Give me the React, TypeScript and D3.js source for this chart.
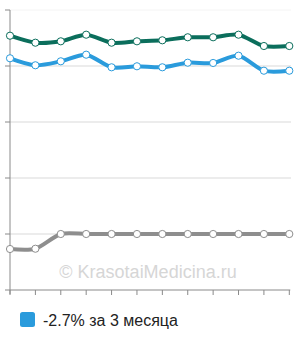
import React from "react";
import * as d3 from "d3";

const xLabels = ["1", "2", "3", "4", "5", "6", "7", "8", "9", "10", "11", "12"];
const yTicks = [0, 1, 2, 3, 4, 5];
const seriesDark = [4.541, 4.416, 4.441, 4.559, 4.416, 4.441, 4.459, 4.513, 4.513, 4.559, 4.357, 4.357];
const seriesBlue = [4.138, 4.013, 4.084, 4.202, 3.977, 3.995, 3.977, 4.059, 4.054, 4.184, 3.916, 3.916];
const seriesGray = [0.732, 0.737, 1.0, 1.0, 1.0, 1.0, 1.0, 1.0, 1.0, 1.0, 1.0, 1.0];
const legendLabel = "-2.7% за 3 месяца";
const watermark = "© KrasotaiMedicina.ru";

const series = [
  { values: seriesGray, color: "#8e8e8e", marker: "#8e8e8e" },
  { values: seriesDark, color: "#0b6e5c", marker: "#0b6e5c" },
  { values: seriesBlue, color: "#2a9bdc", marker: "#2a9bdc" },
];

export default function App() {
  const W = 300, H = 340;
  const left = 10, right = 289.3, top = 10, bottom = 290;
  const x = d3.scalePoint<string>().domain(xLabels).range([left, right]);
  const y = d3.scaleLinear().domain([0, 5]).range([bottom, top]);
  const line = d3
    .line<number>()
    .x((_, i) => x(xLabels[i]) as number)
    .y((d) => y(d))
    .curve(d3.curveCardinal.tension(0.2));

  return (
    <svg width={W} height={H} style={{ position: "absolute", left: 0, top: 0, fontFamily: "Liberation Sans, Arial, sans-serif" }}>
      <rect width={W} height={H} fill="#fff" />
      {yTicks.slice(1).map((t) => (
        <line key={"g" + t} x1={left} x2={291} y1={y(t)} y2={y(t)} stroke={t === 5 ? "#f4f4f4" : "#d9d9d9"} strokeWidth={1} />
      ))}
      <text x={148} y={278} textAnchor="middle" fontSize={18} fill="#d6d6d6">{watermark}</text>
      <line x1={left} x2={left} y1={top} y2={bottom + 4} stroke="#8a8a8a" strokeWidth={1} />
      {yTicks.map((t) => (
        <line key={"yt" + t} x1={5} x2={left} y1={y(t)} y2={y(t)} stroke="#8a8a8a" strokeWidth={1} />
      ))}
      <line x1={left} x2={right + 1} y1={bottom} y2={bottom} stroke="#8a8a8a" strokeWidth={1} />
      {xLabels.map((l) => (
        <line key={"xt" + l} x1={x(l)} x2={x(l)} y1={bottom} y2={bottom + 5} stroke="#8a8a8a" strokeWidth={1} />
      ))}
      {series.map((s, si) => (
        <g key={si}>
          <path d={line(s.values) || ""} fill="none" stroke={s.color} strokeWidth={4} strokeLinejoin="round" />
          {s.values.map((v, i) => (
            <circle key={i} cx={x(xLabels[i])} cy={y(v)} r={3.6} fill="#fff" stroke={s.marker} strokeWidth={1} />
          ))}
        </g>
      ))}
      <rect x={20} y={312} width={15} height={15} rx={2.5} fill="#2a9bdc" />
      <text x={43} y={326} fontSize={16} fill="#222">{legendLabel}</text>
    </svg>
  );
}
